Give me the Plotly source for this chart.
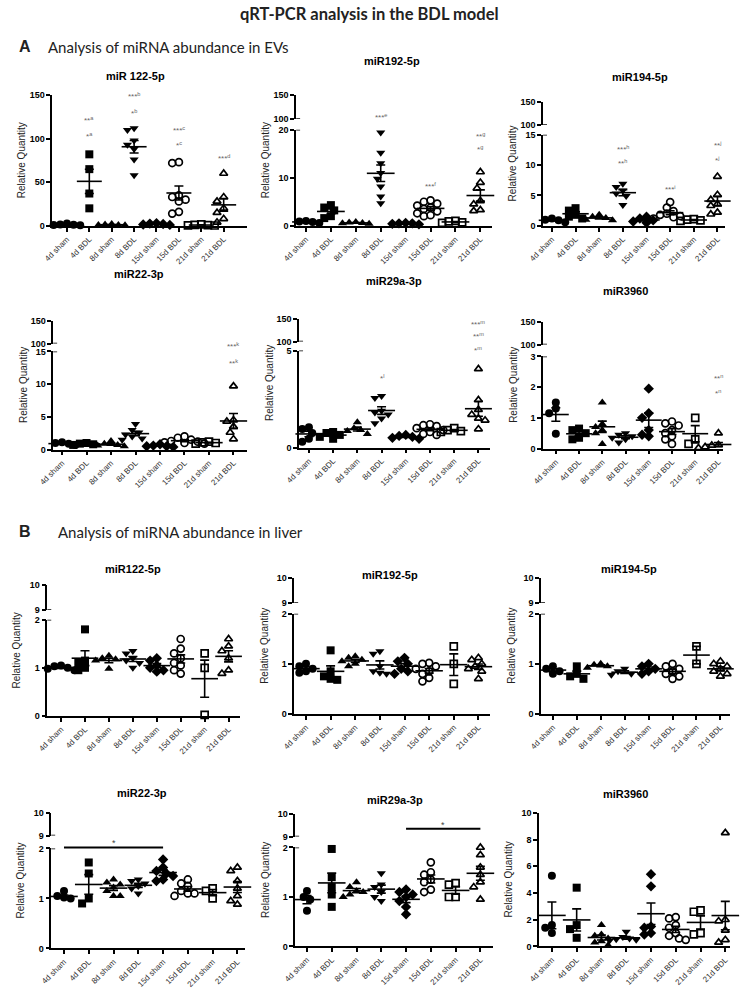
import numpy as np
import plotly.graph_objects as go

W, H = 740, 999

groups = ["4d sham", "4d BDL", "8d sham", "8d BDL", "15d sham", "15d BDL", "21d sham", "21d BDL"]
symbols = ["circle", "square", "triangle-up", "triangle-down", "diamond",
           "circle-open", "square-open", "triangle-up-open"]

# ---------------- EV data ----------------
ev_mir122 = [[0.8, 1.5, 2.5, 1.2, 0.5], [82, 65, 37, 20], [1.0, 0.5, 1.5, 1.0, 2.0],
             [112, 110, 98, 93, 88, 76, 58], [2.0, 3.0, 1.5, 2.5, 1.0],
             [73, 72, 35, 33, 30, 28, 16, 14], [0.5, 1.0, 1.5, 0.8, 0.3], [60, 33, 28, 20, 15, 8, 4]]
ev_mir192 = [[0.8, 1.0, 0.6, 0.9, 0.7], [4.3, 3.8, 3.2, 2.0, 1.6], [0.5, 0.7, 0.6, 0.4, 0.8],
             [19.4, 15.2, 13.0, 11.0, 9.8, 8.2, 6.1, 4.7], [0.4, 0.5, 0.3, 0.6, 0.5],
             [5.3, 5.0, 4.6, 4.2, 3.8, 3.5, 3.0, 2.6, 2.2, 2.0], [1.0, 0.9, 0.7, 0.6],
             [11.2, 9.0, 7.8, 5.2, 4.5, 3.3, 3.1]]
ev_mir194 = [[1.2, 1.0, 0.8, 0.6, 0.9], [2.9, 2.5, 1.8, 1.5, 1.2], [1.8, 1.5, 1.3, 1.0, 0.9],
             [6.9, 6.4, 5.8, 5.3, 4.9, 3.4], [1.5, 1.2, 0.9, 0.7, 0.5],
             [3.9, 3.0, 2.4, 2.0, 1.8, 1.6, 1.4, 1.2], [1.1, 1.0, 0.9, 0.8],
             [8.1, 5.1, 4.3, 3.6, 3.3, 2.2, 1.9]]
ev_mir22 = [[1.1, 0.9, 0.8, 0.7, 1.0], [1.0, 0.9, 0.8, 0.7], [1.3, 0.9, 0.7, 0.5, 0.6],
            [3.9, 3.0, 2.6, 2.3, 2.0, 1.7, 1.5], [0.8, 0.6, 0.5, 0.4, 0.5],
            [2.0, 1.8, 1.5, 1.3, 1.1, 1.0, 0.9, 1.2], [1.2, 1.1, 1.0, 0.9],
            [9.7, 4.5, 4.3, 3.5, 2.6, 1.6]]
ev_mir29a = [[1.05, 0.95, 0.75, 0.45, 0.3], [0.8, 0.75, 0.65, 0.55, 0.45], [1.3, 1.0, 0.9, 0.85, 0.7],
             [2.65, 2.55, 1.9, 1.8, 1.7, 1.5, 1.25], [0.65, 0.6, 0.55, 0.5, 0.45],
             [1.2, 1.15, 1.1, 1.0, 0.9, 0.8, 0.7, 0.65], [1.0, 0.9, 0.85, 0.8],
             [4.05, 2.45, 1.95, 1.7, 1.5, 1.4, 0.95]]
ev_mir3960 = [[1.5, 1.3, 1.15, 0.48], [0.65, 0.6, 0.5, 0.35, 0.3], [1.5, 0.8, 0.7, 0.6, 0.5, 0.15],
              [0.5, 0.45, 0.4, 0.35, 0.3, 0.2], [1.95, 1.15, 1.0, 0.6, 0.45, 0.4],
              [0.88, 0.82, 0.75, 0.6, 0.5, 0.4, 0.3, 0.15], [1.0, 0.3, 0.15],
              [0.5, 0.12, 0.1, 0.08, 0.05, 0.02, 0.05]]

# ---------------- Liver data ----------------
lv_mir122 = [[1.05, 1.03, 1.0, 0.98, 0.95], [1.8, 1.15, 1.1, 1.0, 0.95], [1.25, 1.2, 1.18, 1.15, 0.98],
             [1.35, 1.3, 1.2, 1.15, 1.1, 1.0], [1.2, 1.15, 1.05, 1.0, 0.95, 0.92],
             [1.6, 1.4, 1.3, 1.2, 1.1, 1.05, 0.95, 0.88], [1.3, 1.0, 0.02],
             [1.6, 1.45, 1.35, 1.2, 0.95, 0.88]]
lv_mir192 = [[1.0, 0.95, 0.9, 0.85, 0.82], [1.27, 0.85, 0.75, 0.7, 0.68], [1.15, 1.12, 1.08, 1.05, 1.0, 0.95],
             [1.25, 1.2, 0.95, 0.85, 0.82, 0.8], [1.12, 1.05, 1.0, 0.9, 0.85, 0.8],
             [1.02, 1.0, 0.95, 0.9, 0.85, 0.8, 0.72, 0.65], [1.35, 1.0, 0.6],
             [1.12, 1.08, 1.0, 0.95, 0.9, 0.85, 0.7]]
lv_mir194 = [[0.95, 0.9, 0.85, 0.8], [0.95, 0.8, 0.75, 0.7], [1.0, 0.98, 0.95, 0.92],
             [0.9, 0.85, 0.8, 0.78], [1.0, 0.95, 0.9, 0.85, 0.8],
             [1.0, 0.95, 0.9, 0.85, 0.8, 0.75, 0.7], [1.35, 1.0],
             [1.05, 1.0, 0.95, 0.9, 0.85, 0.8, 0.75]]
lv_mir22 = [[1.15, 1.05, 1.02, 1.0, 0.98], [1.72, 1.5, 1.0, 0.9], [1.38, 1.32, 1.28, 1.22, 1.15, 1.05, 1.05],
            [1.38, 1.35, 1.3, 1.25, 1.2, 1.1], [1.78, 1.62, 1.55, 1.5, 1.45, 1.38, 1.35],
            [1.38, 1.3, 1.25, 1.15, 1.1, 1.05, 1.1], [1.2, 1.15, 1.0],
            [1.62, 1.55, 1.35, 1.2, 1.05, 0.95, 0.88]]
lv_mir29a = [[1.12, 1.0, 0.95, 0.72], [1.97, 1.4, 1.2, 1.05, 0.8], [1.3, 1.2, 1.12, 1.1, 1.05, 1.0],
             [1.48, 1.25, 1.2, 1.1, 1.0, 0.92], [1.15, 1.1, 1.05, 1.0, 0.92, 0.8, 0.65],
             [1.7, 1.5, 1.45, 1.35, 1.3, 1.15, 1.1], [1.28, 1.25, 1.0, 1.0],
             [2.0, 1.85, 1.6, 1.45, 1.3, 1.2, 0.95]]
lv_mir3960 = [[5.3, 1.6, 1.4, 1.0], [4.4, 1.6, 1.3, 0.65], [1.6, 0.9, 0.8, 0.6, 0.4, 0.3, 0.1],
              [1.1, 0.7, 0.6, 0.55, 0.5, 0.45], [5.4, 4.5, 1.5, 1.4, 1.0, 0.9],
              [2.2, 2.1, 1.6, 1.4, 1.0, 0.8, 0.6, 0.5], [2.7, 2.6, 1.0, 0.9],
              [8.5, 2.0, 1.9, 1.8, 1.2, 0.5, 0.3]]

# significance labels: (group index, height on the lower-axis scale, stars, letter)
sig_ev122 = [(1, 121, "**", "a"), (1, 103, "*", "a"), (3, 149, "***", "b"), (3, 129, "*", "b"),
             (5, 110, "***", "c"), (5, 93, "*", "c"), (7, 78, "***", "d")]
sig_ev192 = [(3, 22.6, "***", "e"), (5, 8.2, "***", "f"), (7, 18.6, "**", "g"), (7, 15.9, "*", "g")]
sig_ev194 = [(3, 12.6, "***", "h"), (3, 10.3, "**", "h"), (5, 6.1, "***", "i"),
             (7, 13.3, "**", "j"), (7, 10.9, "*", "j")]
sig_ev22 = [(7, 15.9, "***", "k"), (7, 13.3, "**", "k")]
sig_ev29a = [(3, 3.57, "*", "l"), (7, 6.38, "***", "m"), (7, 5.73, "**", "m"), (7, 5.02, "*", "m")]
sig_ev3960 = [(7, 2.29, "**", "n"), (7, 1.8, "*", "n")]

# ---------------- panel layout (pixels) ----------------
# up: (px of lower value, px of upper value, lower value, upper value, ticks)
panels = [
    dict(name="miR 122-5p", data=ev_mir122, left=38, right=237, c0=53, c7=213, y0=223, ytop=91, top=150,
         lt=[0, 50, 100, 150], up=None, ttl=(123, 72), sig=sig_ev122),
    dict(name="miR192-5p", data=ev_mir192, left=287, right=487, c0=297, c7=475, y0=223, ytop=126, top=20,
         lt=[0, 10, 20], up=(115, 91, 100, 150, [100, 150]), ttl=(385, 57), sig=sig_ev192),
    dict(name="miR194-5p", data=ev_mir194, left=539, right=725, c0=548, c7=717, y0=223, ytop=131, top=15,
         lt=[0, 5, 10, 15], up=(121, 98, 100, 150, [100, 150]), ttl=(638, 73), sig=sig_ev194),
    dict(name="miR22-3p", data=ev_mir22, left=39, right=237, c0=48, c7=223, y0=449, ytop=350, top=15,
         lt=[0, 5, 10, 15], up=(342, 319, 100, 150, [100, 150]), ttl=(127, 272), sig=sig_ev22),
    dict(name="miR29a-3p", data=ev_mir29a, left=290, right=485, c0=300, c7=473, y0=447, ytop=349, top=5,
         lt=[0, 5], up=(340, 317, 100, 150, [100, 150]), ttl=(387, 279), sig=sig_ev29a),
    dict(name="miR3960", data=ev_mir3960, left=539, right=723, c0=552, c7=718, y0=448, ytop=355, top=3,
         lt=[0, 1, 2, 3], up=(343, 320, 100, 150, [100, 150]), ttl=(623, 289), sig=sig_ev3960),
    dict(name="miR122-5p", data=lv_mir122, left=33, right=230, c0=47, c7=218, y0=718, ytop=621, top=2,
         lt=[0, 1, 2], up=(611, 586, 9, 10, [9, 10]), ttl=(120, 570), sig=[]),
    dict(name="miR192-5p", data=lv_mir192, left=285, right=485, c0=297, c7=473, y0=716, ytop=615, top=2,
         lt=[0, 1, 2], up=(604, 579, 9, 10, [9, 10]), ttl=(383, 576), sig=[]),
    dict(name="miR194-5p", data=lv_mir194, left=537, right=730, c0=549, c7=720, y0=716, ytop=615, top=2,
         lt=[0, 1, 2], up=(604, 579, 9, 10, [9, 10]), ttl=(627, 570), sig=[]),
    dict(name="miR22-3p", data=lv_mir22, left=37, right=235, c0=50, c7=227, y0=953, ytop=852, top=2,
         lt=[0, 1, 2], up=(839, 816, 9, 10, [9, 10]), ttl=(130, 796), sig=[]),
    dict(name="miR29a-3p", data=lv_mir29a, left=286, right=488, c0=298, c7=475, y0=951, ytop=851, top=2,
         lt=[0, 1, 2], up=(840, 817, 9, 10, [9, 10]), ttl=(388, 803), sig=[]),
    dict(name="miR3960", data=lv_mir3960, left=535, right=730, c0=548, c7=725, y0=951, ytop=816, top=10,
         lt=[0, 2, 4, 6, 8, 10], up=None, ttl=(623, 797), sig=[]),
]
# liver significance bars: (panel index, group from, group to, height on lower-axis scale)
sig_bars = [(9, 0, 4, 2.02), (10, 4, 7, 2.38)]

FONT = "Liberation Sans, Arial, sans-serif"


def swarm(vals, ppu, step_px, d=6.8):
    vals = np.asarray(vals, dtype=float)
    order = np.argsort(-vals)
    placed = []
    off = np.zeros(len(vals))
    cands = sorted(np.arange(-4, 4.01, 0.5) * d, key=lambda c: (abs(c), c))
    for i in order:
        ypx = vals[i] * ppu
        for c in cands:
            if all((c - px) ** 2 + (ypx - py) ** 2 >= (d * 0.9) ** 2 for px, py in placed):
                break
        placed.append((c, ypx))
        off[i] = c / step_px
    return off


def paper_y(p, val):
    ppu = (p["y0"] - p["ytop"]) / p["top"]
    return 1 - (p["y0"] - val * ppu) / H


fig = go.Figure()
layout = {}
annotations = []
shapes = []
upper_id = 13

for k, p in enumerate(panels, 1):
    sfx = "" if k == 1 else str(k)
    xa, ya = "x" + sfx, "y" + sfx
    step = (p["c7"] - p["c0"]) / 7.0
    ppu = (p["y0"] - p["ytop"]) / p["top"]
    for gi, vals in enumerate(p["data"]):
        off = swarm(vals, ppu, step)
        sym = symbols[gi]
        is_open = sym.endswith("open")
        fig.add_trace(go.Scatter(
            x=gi + off, y=vals, mode="markers", xaxis=xa, yaxis=ya, cliponaxis=False,
            showlegend=False, hoverinfo="skip",
            marker=dict(symbol=sym, size=8 if not is_open else 7, color="black",
                        line=dict(color="black", width=1.7 if is_open else 0))))
        arr = np.asarray(vals, dtype=float)
        mean = arr.mean()
        sem = arr.std(ddof=1) / np.sqrt(len(arr))
        fig.add_trace(go.Scatter(
            x=[gi], y=[mean], mode="markers", xaxis=xa, yaxis=ya, cliponaxis=False,
            showlegend=False, hoverinfo="skip",
            marker=dict(symbol="line-ew", size=step * 0.78, color="black",
                        line=dict(color="black", width=1.6)),
            error_y=dict(type="data", array=[sem], color="black", thickness=1.6, width=4.5)))

    xr = [(p["left"] - p["c0"]) / step, (p["right"] - p["c0"]) / step]
    axcommon = dict(showline=True, linecolor="black", linewidth=1.5, ticks="outside", ticklen=4,
                    tickwidth=1.5, tickcolor="black", showgrid=False, zeroline=False, fixedrange=True)
    layout["xaxis" + sfx] = dict(domain=[p["left"] / W, p["right"] / W], range=xr, anchor=ya,
                                 tickmode="array", tickvals=list(range(8)), ticktext=groups,
                                 tickangle=-45, tickfont=dict(size=8, color="#333", family=FONT),
                                 **axcommon)
    layout["yaxis" + sfx] = dict(domain=[1 - p["y0"] / H, 1 - p["ytop"] / H], range=[0, p["top"]],
                                 anchor=xa, tickmode="array", tickvals=p["lt"],
                                 ticktext=["<b>%g</b>" % v for v in p["lt"]],
                                 tickfont=dict(size=9, color="black", family=FONT), **axcommon)
    top_px = p["ytop"]
    if p["up"] is not None:
        plo, phi, vlo, vhi, ut = p["up"]
        uya = "y" + str(upper_id)
        layout["yaxis" + str(upper_id)] = dict(domain=[1 - plo / H, 1 - phi / H], range=[vlo, vhi],
                                               anchor=xa, tickmode="array", tickvals=ut,
                                               ticktext=["<b>%g</b>" % v for v in ut],
                                               tickfont=dict(size=9, color="black", family=FONT),
                                               **axcommon)
        fig.add_trace(go.Scatter(x=[None], y=[None], xaxis=xa, yaxis=uya, showlegend=False,
                                 hoverinfo="skip", mode="markers"))
        width_px = p["right"] - p["left"]
        # break marks crossing the axis
        shapes.append(dict(type="line", xref=xa + " domain", yref=ya, x0=0, x1=4 / width_px,
                           y0=p["top"], y1=p["top"], line=dict(color="black", width=1.5)))
        shapes.append(dict(type="line", xref=xa + " domain", yref=uya, x0=0, x1=4 / width_px,
                           y0=vlo, y1=vlo, line=dict(color="black", width=1.5)))
        top_px = phi
        upper_id += 1

    # panel title
    annotations.append(dict(text="<b>%s</b>" % p["name"], x=p["ttl"][0] / W, y=1 - p["ttl"][1] / H,
                            xref="paper", yref="paper", showarrow=False, xanchor="center",
                            yanchor="middle", font=dict(size=11, color="black", family=FONT)))
    # y axis title
    annotations.append(dict(text="Relative Quantity", x=(p["left"] - 31) / W,
                            y=1 - (p["y0"] + top_px) / 2 / H, xref="paper", yref="paper",
                            showarrow=False, textangle=-90, xanchor="center", yanchor="middle",
                            font=dict(size=10, color="#222", family=FONT)))
    # significance labels
    for gi, val, stars, letter in p["sig"]:
        annotations.append(dict(text="%s<sup>%s</sup>" % (stars, letter), x=gi, y=paper_y(p, val),
                                xref=xa, yref="paper", showarrow=False, xanchor="center",
                                yanchor="middle", font=dict(size=8, color="#666", family=FONT)))

for pi, g0, g1, val in sig_bars:
    p = panels[pi]
    sfx = str(pi + 1)
    shapes.append(dict(type="line", xref="x" + sfx, yref="paper", x0=g0, x1=g1,
                       y0=paper_y(p, val), y1=paper_y(p, val), line=dict(color="black", width=2)))
    annotations.append(dict(text="*", x=(g0 + g1) / 2, y=paper_y(p, val), xref="x" + sfx, yref="paper",
                            showarrow=False, xanchor="center", yanchor="bottom", yshift=-3,
                            font=dict(size=9, color="#444", family=FONT)))

# headers
annotations.append(dict(text="<b>qRT-PCR analysis in the BDL model</b>", x=362 / W, y=1 - 9 / H,
                        xref="paper", yref="paper", showarrow=False, xanchor="center", yanchor="middle",
                        font=dict(size=16.5, color="#222", family="Lato, sans-serif")))
for letter, lx, tx, ly, txt in [("A", 10, 32, 42, "Analysis of miRNA abundance in EVs"),
                                ("B", 10, 42, 532, "Analysis of miRNA abundance in liver")]:
    annotations.append(dict(text="<b>%s</b>" % letter, x=lx / W, y=1 - ly / H, xref="paper", yref="paper",
                            showarrow=False, xanchor="center", yanchor="middle",
                            font=dict(size=16, color="#222", family=FONT)))
    annotations.append(dict(text=txt, x=tx / W, y=1 - ly / H, xref="paper", yref="paper",
                            showarrow=False, xanchor="left", yanchor="middle",
                            font=dict(size=15, color="#222", family="Lato, sans-serif")))

fig.update_layout(width=W, height=H, margin=dict(l=0, r=0, t=0, b=0), plot_bgcolor="white",
                  paper_bgcolor="white", annotations=annotations, shapes=shapes, **layout)
fig.write_html("out.html", config={"displayModeBar": False},
               post_script="document.body.style.margin='0';")
